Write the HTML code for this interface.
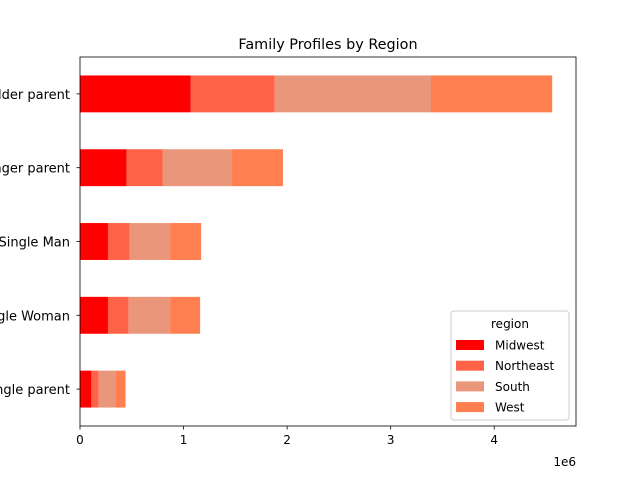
<!DOCTYPE html>
<html><head><meta charset="utf-8"><style>
body{margin:0;background:#fff;}
svg{display:block;font-family:"DejaVu Sans","Liberation Sans",sans-serif;}
</style></head><body>
<svg id="chart" width="640" height="480" viewBox="0 0 640 480">
<rect width="640" height="480" fill="#fff"/>
<text x="328" y="49" font-size="14.4" text-anchor="middle" fill="#000">Family Profiles by Region</text>
<g id="bars"></g>
<g id="axes"></g>
</svg>
<script>
const categories = ["Single parent","Single Woman","Single Man","Younger parent","Older parent"];
const regions = ["Midwest","Northeast","South","West"];
const midwest = [110000,270000,270000,450000,1070000];
const northeast = [70000,200000,210000,350000,810000];
const south = [160000,400000,390000,660000,1510000];
const west = [100000,290000,300000,500000,1170000];
const xTicks = [0,1,2,3,4];
const colors = ["#ff0000","#ff6347","#e9967a","#ff7f50"];
const series = [midwest,northeast,south,west];

const L=80,R=576,T=57,B=426,xmax=4.79e6;
const n=categories.length;
const xs=v=>L+(v/xmax)*(R-L);
const band=(B-T)/n;
const ys=i=>B-band*(i+0.5);
const NS="http://www.w3.org/2000/svg";
function mk(tag,attrs,parent){const e=document.createElementNS(NS,tag);for(const k in attrs)e.setAttribute(k,attrs[k]);parent.appendChild(e);return e;}
const gb=document.getElementById('bars'), ga=document.getElementById('axes');
for(let i=0;i<n;i++){
  let acc=0;
  for(let s=0;s<series.length;s++){
    const v=series[s][i];
    const r=mk('rect',{x:xs(acc),y:ys(i)-band*0.25,width:xs(acc+v)-xs(acc),height:band*0.5,fill:colors[s]},gb);
    
    
    acc+=v;
  }
  mk('line',{x1:L,x2:L-3.5,y1:ys(i),y2:ys(i),stroke:'#000','stroke-width':0.8},ga);
  const t=mk('text',{x:L-10,y:ys(i)+5,'font-size':13,'text-anchor':'end'},ga);
  t.textContent=categories[i];
  
  
}
mk('rect',{x:L,y:T,width:R-L,height:B-T,fill:'none',stroke:'#000','stroke-width':0.8},ga);
xTicks.forEach(v=>{
  const x=xs(v*1e6);
  mk('line',{x1:x,x2:x,y1:B,y2:B+3.5,stroke:'#000','stroke-width':0.8},ga);
  const t=mk('text',{x:x,y:B+18,'font-size':12,'text-anchor':'middle'},ga);
  t.textContent=v;
  
  
});
const off=mk('text',{x:R,y:B+40,'font-size':12,'text-anchor':'end'},ga);
off.textContent='1e6';


const lg=mk('g',{},ga);


mk('rect',{x:451,y:311,width:118,height:109,rx:3,fill:'#fff','fill-opacity':0.8,stroke:'#ccc'},lg);
const lt=mk('text',{x:510,y:328,'font-size':12,'text-anchor':'middle'},lg);
lt.textContent='region';
regions.forEach((r,k)=>{
  const y=345+k*20.7;
  const e=mk('g',{},lg);
  
  
  mk('rect',{x:456,y:y-5,width:28,height:10,fill:colors[k]},e);
  const t=mk('text',{x:495,y:y+4.5,'font-size':12},e);
  t.textContent=r;
});
</script>
</body></html>
